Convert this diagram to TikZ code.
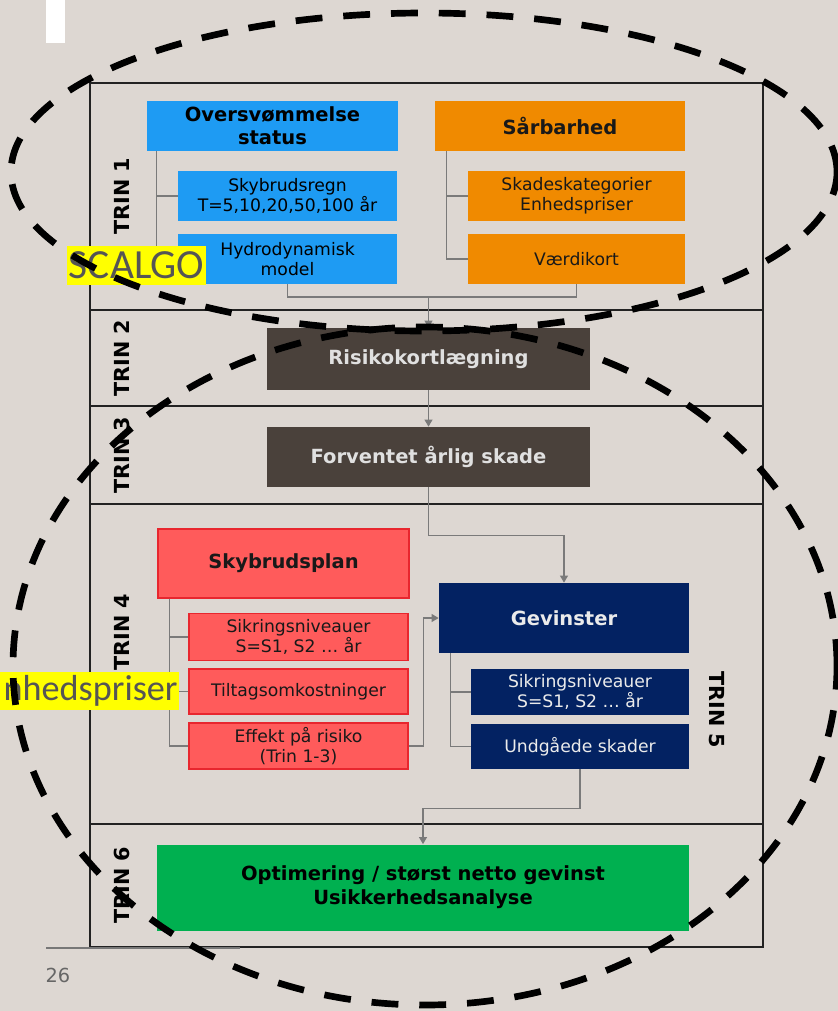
\documentclass[tikz,border=0pt]{standalone}
\usepackage{fontspec}
\setmainfont{DejaVu Sans}
\newfontfamily\calfont{Carlito}
\usetikzlibrary{arrows.meta,calc}
\newcommand{\pxu}{0.02cm}
\definecolor{bg}{HTML}{DDD7D2}
\definecolor{cblue}{HTML}{1E9BF3}
\definecolor{corange}{HTML}{F08A00}
\definecolor{cdark}{HTML}{4A413B}
\definecolor{cred}{HTML}{FF5B5B}
\definecolor{credline}{HTML}{E8262E}
\definecolor{cnavy}{HTML}{032262}
\definecolor{cgreen}{HTML}{00B050}
\definecolor{cconn}{HTML}{7A7A7A}
\definecolor{cframe}{HTML}{222222}
\definecolor{clabel}{HTML}{555555}
\definecolor{cyell}{HTML}{FFFF00}
\begin{document}
\begin{tikzpicture}[x=0.02cm,y=-0.02cm,
  box/.style 2 args={minimum width=#1*\pxu, minimum height=#2*\pxu,
    inner sep=0pt, align=center, anchor=center},
  hdr/.style={font=\fontsize{11.1}{13}\selectfont\bfseries},
  sub/.style={font=\fontsize{9.8}{11.3}\selectfont},
  bluebox/.style={fill=cblue, text=black},
  orangebox/.style={fill=corange, text=black!90},
  darkbox/.style={fill=cdark, text=black!12},
  redbox/.style={fill=cred, draw=credline, line width=0.7pt, text=black!90},
  navybox/.style={fill=cnavy, text=black!8},
  greenbox/.style={fill=cgreen, text=black},
  trin/.style={font=\fontsize{11.8}{12}\selectfont\bfseries, text=black},
  conn/.style={draw=cconn, line width=0.75pt},
  arr/.style={conn, -{Triangle[width=4.5pt,length=4pt]}},
  frame/.style={draw=cframe, line width=0.9pt},
  tag/.style={fill=cyell, text=clabel, inner ysep=0pt, inner xsep=1pt,
    font=\calfont},
  ring/.style={draw=black, line width=3.8pt, dash pattern=on 15.3pt off 11.9pt}]

% page
\fill[bg] (0,0) rectangle (838,1011);
\useasboundingbox (0,0) rectangle (838,1011);
\fill[white] (46,0) rectangle (65,43);

% stage frame and row dividers
\draw[frame] (90,83) rectangle (763,947);
\foreach \yy in {310,406,504,824} \draw[frame] (90,\yy) -- (763,\yy);
\draw[draw=clabel!80, line width=0.6pt] (46,948) -- (240,948);
\node[text=black!60, font=\fontsize{11}{12}\selectfont] (pg) at (58,975) {26};

% stage labels
\node[trin, rotate=90] (t1) at (122,196) {TRIN 1};
\node[trin, rotate=90] (t2) at (122,358) {TRIN 2};
\node[trin, rotate=90] (t3) at (122,455) {TRIN 3};
\node[trin, rotate=90] (t4) at (122,632) {TRIN 4};
\node[trin, rotate=-90] (t5) at (717,710) {TRIN 5};
\node[trin, rotate=90] (t6) at (122,885) {TRIN 6};

% TRIN 1
\node[box={251}{50}, bluebox, hdr] (ov) at (272.5,126) {Oversvømmelse\\status};
\node[box={219}{50}, bluebox, sub] (sky) at (287.5,196) {Skybrudsregn\\T=5,10,20,50,100 år};
\node[box={219}{50}, bluebox, sub] (hyd) at (287.5,259) {Hydrodynamisk\\model};
\node[box={250}{50}, orangebox, hdr] (sar) at (560,126) {Sårbarhed};
\node[box={217}{50}, orangebox, sub] (skade) at (576.5,196) {Skadeskategorier\\Enhedspriser};
\node[box={217}{50}, orangebox, sub] (vaerdi) at (576.5,259) {Værdikort};

% TRIN 2 and 3
\node[box={323}{62}, darkbox, hdr] (risk) at (428.5,359) {Risikokortlægning};
\node[box={323}{60}, darkbox, hdr] (forv) at (428.5,457) {Forventet årlig skade};

% TRIN 4 and 5
\node[box={251}{69}, redbox, hdr] (plan) at (283.5,563.5) {Skybrudsplan};
\node[box={219}{47}, redbox, sub] (sik) at (298.5,637) {Sikringsniveauer\\S=S1, S2 … år};
\node[box={219}{45}, redbox, sub] (tilt) at (298.5,691.5) {Tiltagsomkostninger};
\node[box={219}{46}, redbox, sub] (eff) at (298.5,746) {Effekt på risiko\\(Trin 1-3)};
\node[box={250}{70}, navybox, hdr] (gev) at (564,618) {Gevinster};
\node[box={218}{46}, navybox, sub] (sik2) at (580,692) {Sikringsniveauer\\S=S1, S2 … år};
\node[box={218}{45}, navybox, sub] (undg) at (580,746.5) {Undgåede skader};

% TRIN 6
\node[box={532}{86}, greenbox, hdr, font=\fontsize{11.1}{13.5}\selectfont\bfseries] (opt) at (423,887.5)
  {Optimering / størst netto gevinst\\Usikkerhedsanalyse};

% connectors
\draw[conn] ($(ov.south west)+(10,0)$) |- (sky.west);
\draw[conn] ($(ov.south west)+(10,0)$) |- (hyd.west);
\draw[conn] ($(sar.south west)+(12,0)$) |- (skade.west);
\draw[conn] ($(sar.south west)+(12,0)$) |- (vaerdi.west);
\coordinate (j1) at (428.5,297);
\draw[conn] (hyd.south) |- (j1) -| (vaerdi.south);
\draw[arr] (j1) -- (risk.north);
\draw[arr] (risk.south) -- (forv.north);
\draw[arr] (forv.south) |- ($(gev.north)+(0,-47)$) -- (gev.north);
\draw[conn] ($(plan.south west)+(12,0)$) |- (sik.west);
\draw[conn] ($(plan.south west)+(12,0)$) |- (tilt.west);
\draw[conn] ($(plan.south west)+(12,0)$) |- (eff.west);
\draw[arr] (eff.east) -- ++(15,0) |- (gev.west);
\draw[conn] ($(gev.south west)+(12,0)$) |- (sik2.west);
\draw[conn] ($(gev.south west)+(12,0)$) |- (undg.west);
\draw[arr] (undg.south) |- ($(opt.north)+(0,-36)$) -- (opt.north);

% highlighted notes
\fill[cyell] (0,672) rectangle (179,710);
\node[tag, font=\calfont\fontsize{23.6}{24}\selectfont, minimum height=39*\pxu] (scalgo) at (136.5,265.5) {SCALGO};
\node[tag, fill=none, font=\calfont\fontsize{20.6}{22}\selectfont, inner xsep=0pt, minimum height=38*\pxu, anchor=east] (enh) at (178,691) {nhedspriser};

% dashed rings
\draw[ring] (424,172) ellipse [x radius=413*\pxu, y radius=159*\pxu];
\draw[ring] (425,666) ellipse [x radius=412*\pxu, y radius=339*\pxu];
\end{tikzpicture}
\end{document}
